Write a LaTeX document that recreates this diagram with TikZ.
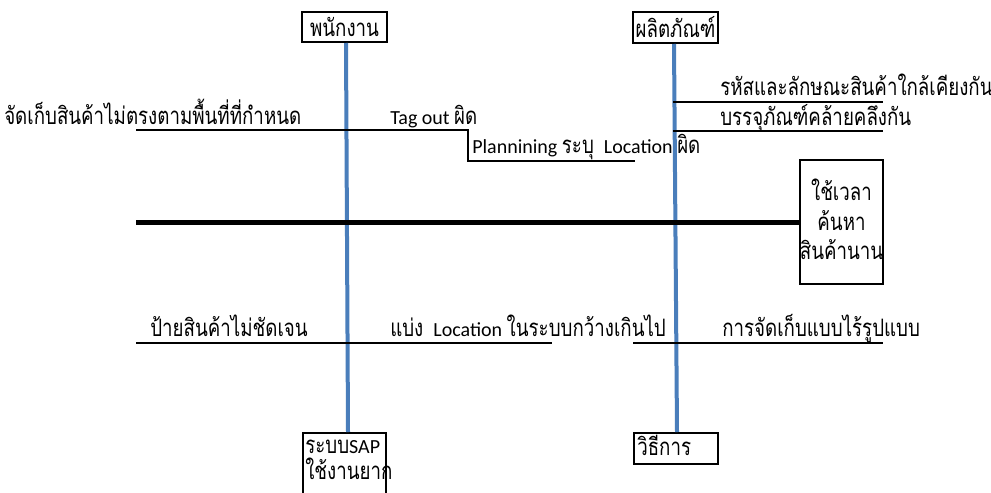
\documentclass[tikz,border=0pt]{standalone}
\usepackage{fontspec}
\usepackage{graphicx}
\setmainfont{Carlito}
\newfontfamily\thai[Script=Thai]{Loma}
% Thai runs: larger Loma, narrowed to a condensed look
\newcommand\tht[1]{\scalebox{0.78}[1]{\fontsize{18}{20}\thai #1}}
\definecolor{ribblue}{RGB}{74,126,187}
\begin{document}
\begin{tikzpicture}[x=0.75pt,y=-0.75pt,
  txt/.style={inner sep=0pt,font=\fontsize{15}{18}\selectfont},
  lbl/.style={txt,anchor=base west},
  box/.style={draw,line width=1.5pt,inner sep=0pt,txt},
  bone/.style={line width=1.6pt},
  spine/.style={line width=3.75pt},
  rib/.style={draw=ribblue,line width=3pt}]
\useasboundingbox (0,0) rectangle (991,492);

% category boxes
\node[box,minimum width=63.75pt,minimum height=22.5pt] (staff) at (344.5,27) {\tht{พนักงาน}};
\node[box,minimum width=63.75pt,minimum height=23.25pt] (product) at (675.5,27.5) {\tht{ผลิตภัณฑ์}};
\node[box,minimum width=62.25pt,minimum height=54pt,anchor=north west] (sap) at (302,432) {};
\node[lbl] (sap1) at (305,453) {\tht{ระบบ}SAP};
\node[lbl] (sap2) at (305,479) {\tht{ใช้งานยาก}};
\node[box,minimum width=63pt,minimum height=23.25pt,anchor=north west] (method) at (633,432) {};
\node[lbl] (methodtext) at (637,455) {\tht{วิธีการ}};

% effect box
\node[box,minimum width=62.25pt,minimum height=93pt] (effect) at (841.5,222) {};
\node[txt,anchor=base] (e1) at (841.5,200) {\tht{ใช้เวลา}};
\node[txt,anchor=base] (e2) at (841.5,230) {\tht{ค้นหา}};
\node[txt,anchor=base] (e3) at (841.5,259) {\tht{สินค้านาน}};

% ribs
\draw[rib] (346,0 |- staff.south) -- (348,0 |- sap.north);
\draw[rib] (674,0 |- product.south) -- (677,0 |- method.north);

% spine
\draw[spine] (136,222) -- (effect.west);

% cause lines
\draw[bone] (136,130) -- (468,130) -- (468,161) -- (635,161);
\draw[bone] (673,102) -- (883,102);
\draw[bone] (673,131) -- (883,131);
\draw[bone] (136,343) -- (552,343);
\draw[bone] (633,343) -- (883,343);

% cause labels
\node[lbl] (c1) at (4,124) {\tht{จัดเก็บสินค้าไม่ตรงตามพื้นที่ที่กำหนด}};
\node[lbl] (c2) at (390,124) {Tag out \tht{ผิด}};
\node[lbl] (c3) at (472,153) {Plannining \tht{ระบุ}\enspace Location \tht{ผิด}};
\node[lbl] (c4) at (720,95) {\tht{รหัสและลักษณะสินค้าใกล้เคียงกัน}};
\node[lbl] (c5) at (720,125) {\tht{บรรจุภัณฑ์คล้ายคลึงกัน}};
\node[lbl] (c6) at (150,336) {\tht{ป้ายสินค้าไม่ชัดเจน}};
\node[lbl] (c7) at (390,336) {\tht{แบ่ง}\enspace Location \tht{ในระบบกว้างเกินไป}};
\node[lbl] (c8) at (722,336) {\tht{การจัดเก็บแบบไร้รูปแบบ}};
\end{tikzpicture}
\end{document}
